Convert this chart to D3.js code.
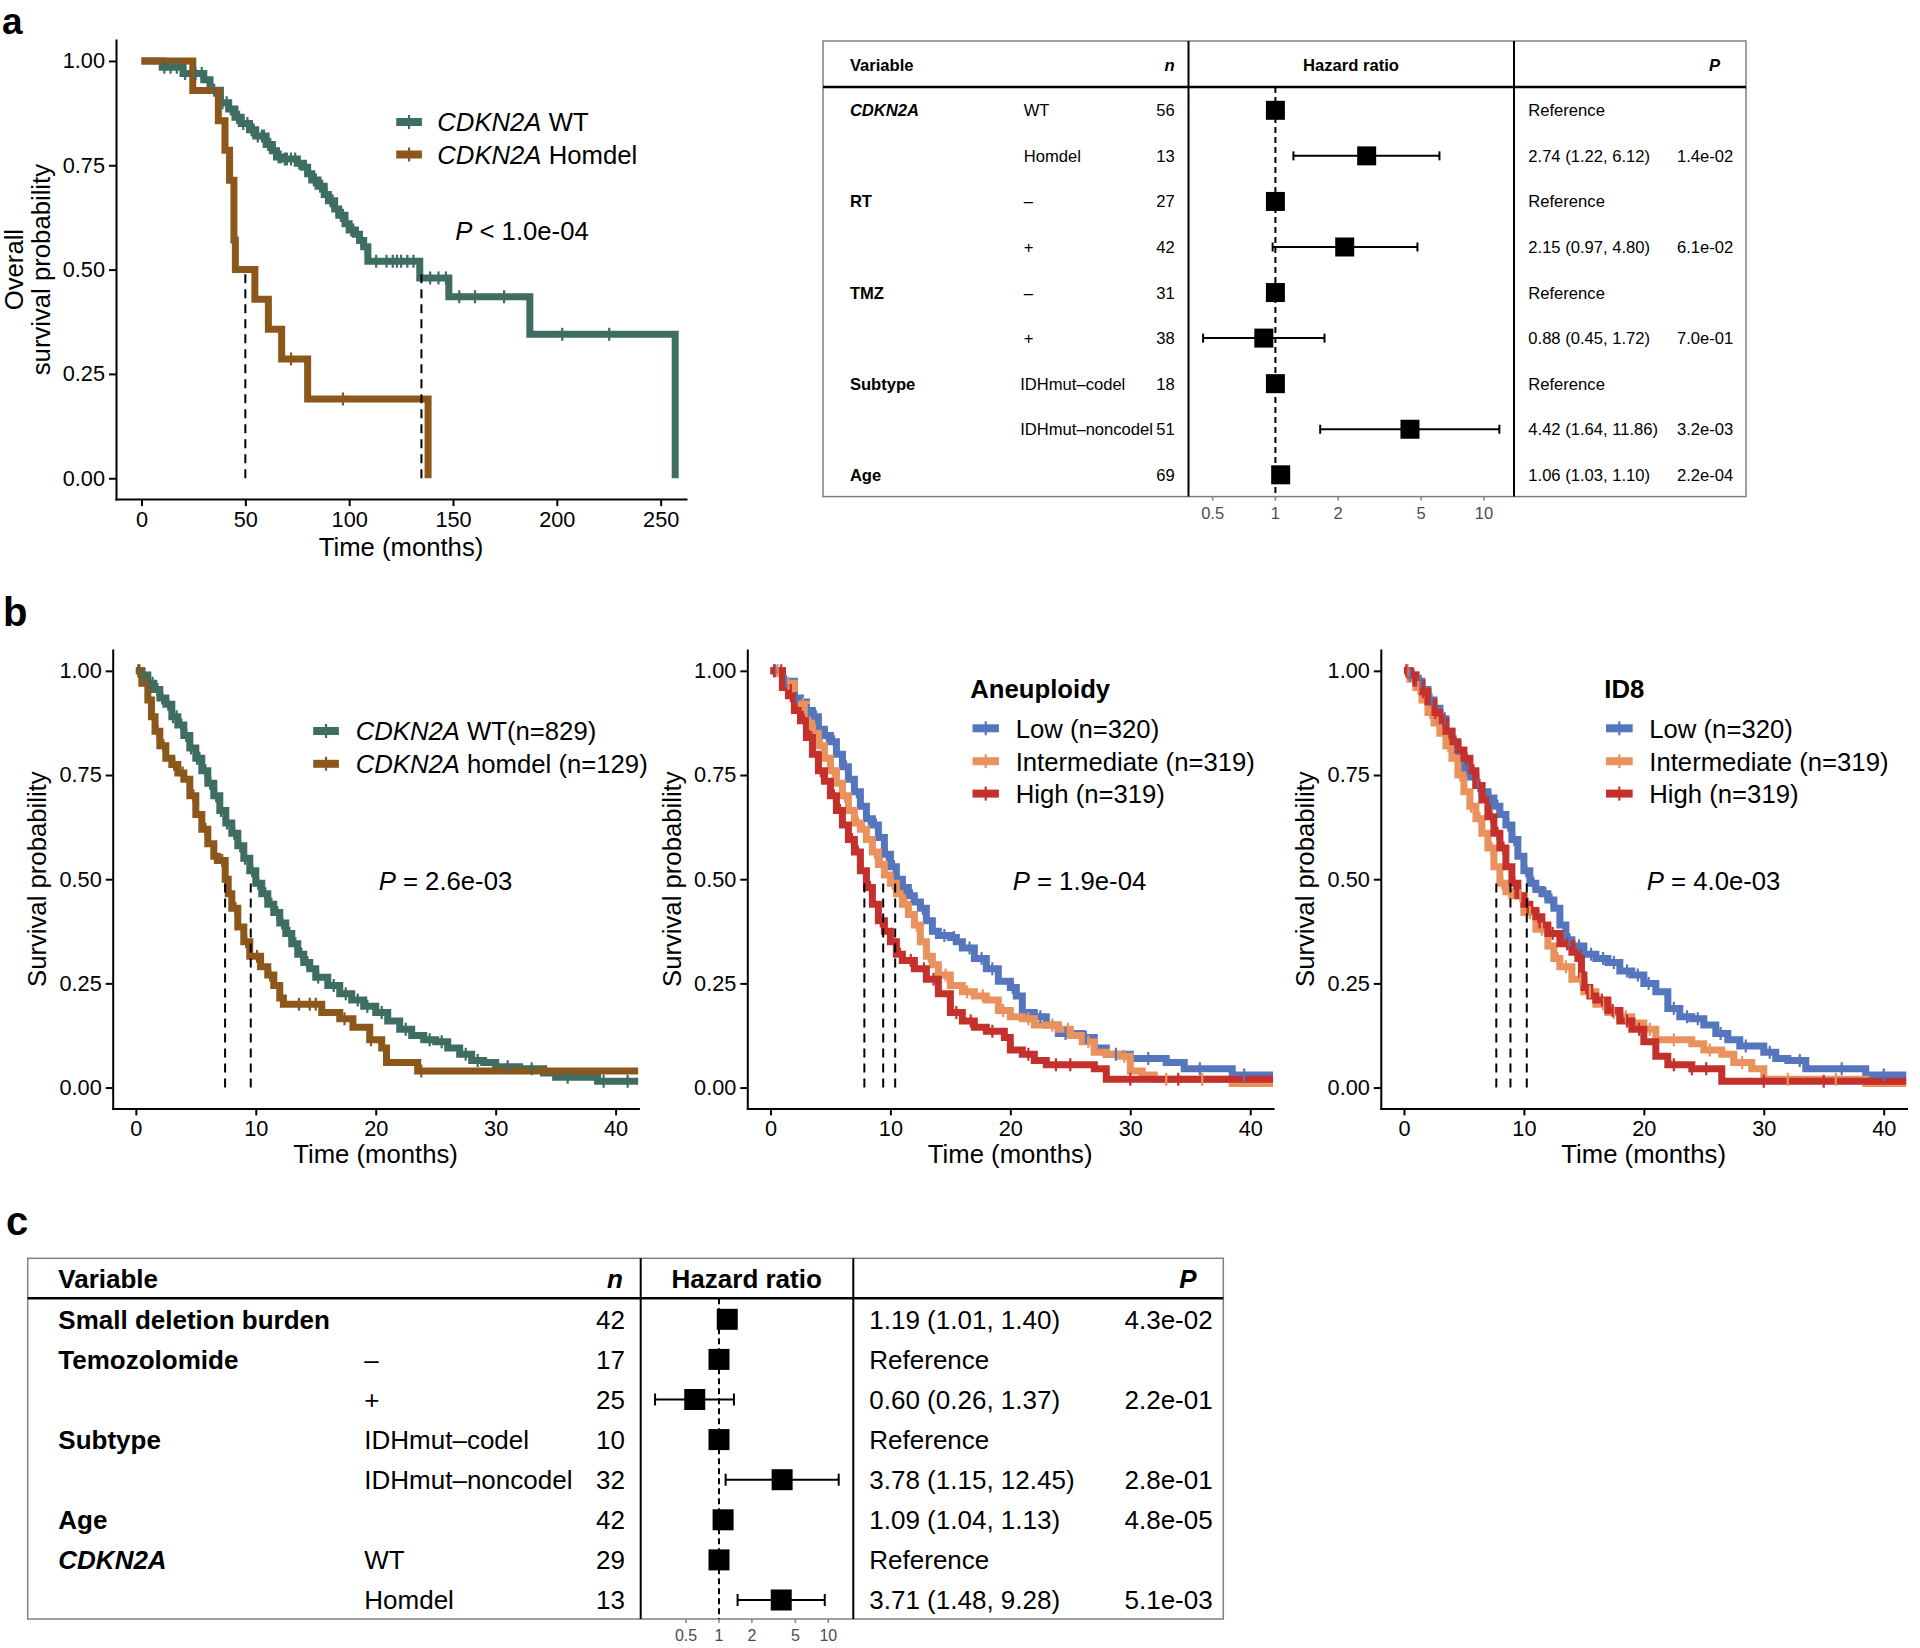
<!DOCTYPE html>
<html>
<head>
<meta charset="utf-8">
<script src="https://cdn.jsdelivr.net/npm/d3@7"></script>
<style>
  body { margin: 0; background: #fff; }
  svg { display: block; }
  text { white-space: pre; }
</style>
</head>
<body>
<svg width="1920" height="1648"></svg>
<script>
const svg = d3.select("svg");
const FONT = "'Liberation Sans', Arial, Helvetica, sans-serif";

const GREEN = "#3e6d62", BROWN = "#8b571b";
const BLUE = "#5576bd", ORANGE = "#e9925e", RED = "#c4302b";

// ---------- panel a, Kaplan-Meier ----------
const aWtTime = [0, 10, 20, 30, 33, 38, 42, 45, 48, 52, 55, 60, 63, 65, 68, 75, 78, 80, 82, 85, 88, 90, 93, 95, 98, 100, 103, 105, 107, 109, 134, 148, 187, 257];
const aWtSurv = [1, 0.985, 0.97, 0.955, 0.93, 0.90, 0.885, 0.865, 0.85, 0.835, 0.82, 0.80, 0.785, 0.77, 0.765, 0.755, 0.745, 0.73, 0.715, 0.70, 0.68, 0.665, 0.645, 0.63, 0.61, 0.595, 0.585, 0.57, 0.555, 0.52, 0.48, 0.435, 0.345, 0];
const aWtCens = [11, 14, 17, 21, 26, 29, 35, 39, 41, 43, 46, 47, 49, 51, 53, 54, 56, 58, 59, 61, 62, 64, 66, 67, 69, 70, 72, 74, 76, 79, 81, 83, 84, 86, 87, 89, 91, 92, 94, 96, 97, 99, 101, 102, 104, 106, 108, 113, 118, 121, 123, 125, 128, 131, 139, 143, 146.6, 153, 160.6, 174.6, 202.6, 225.2];
const aHdTime = [0, 24.7, 37, 40.2, 42.4, 44.5, 45.2, 54.6, 61.1, 67.5, 80, 138];
const aHdSurv = [1, 0.929, 0.857, 0.786, 0.714, 0.571, 0.50, 0.429, 0.357, 0.286, 0.19, 0];
const aHdCens = [72, 97];
const aMedians = [50, 134.8];

// ---------- panel b, CDKN2A ----------
const b1WtTime = [0, 0.5, 1, 1.5, 2, 2.5, 3, 3.5, 4, 4.5, 5, 5.5, 6, 6.5, 7, 7.5, 8, 8.5, 9, 9.5, 10, 10.5, 11, 11.5, 12, 12.5, 13, 13.5, 14, 14.5, 15, 16, 17, 18, 19, 20, 21, 22, 23, 24, 25, 26, 27, 28, 29, 30, 32, 34, 35, 38.5];
const b1WtSurv = [1, 0.99, 0.97, 0.955, 0.935, 0.92, 0.89, 0.87, 0.845, 0.815, 0.79, 0.76, 0.73, 0.70, 0.665, 0.635, 0.61, 0.58, 0.55, 0.52, 0.49, 0.465, 0.44, 0.42, 0.395, 0.37, 0.345, 0.32, 0.30, 0.285, 0.265, 0.245, 0.225, 0.21, 0.195, 0.18, 0.16, 0.14, 0.125, 0.115, 0.11, 0.095, 0.08, 0.065, 0.06, 0.05, 0.045, 0.035, 0.025, 0.015];
const b1WtCens = [0.2, 0.6, 1.1, 1.4, 1.8, 2.2, 2.7, 3.1, 3.4, 3.8, 4.2, 4.6, 5.1, 5.3, 5.8, 6.2, 6.7, 7.1, 7.6, 8.2, 8.7, 9.1, 9.7, 10.2, 10.8, 11.3, 11.8, 12.2, 12.8, 13.3, 13.8, 14.3, 15.2, 16.5, 17.5, 18.5, 19.3, 20.5, 22.5, 24.5, 25.5, 27.5, 28.5, 31, 33, 36, 39, 41];
const b1HdTime = [0, 0.5, 1, 1.3, 1.6, 2, 2.5, 3, 3.5, 4, 4.5, 5, 5.5, 6, 6.5, 6.8, 7.45, 7.7, 8, 8.5, 9, 9.5, 10.4, 11, 11.5, 12, 12.3, 15.5, 17, 18.1, 19.5, 20.5, 20.9, 23.5];
const b1HdSurv = [1, 0.97, 0.93, 0.89, 0.855, 0.82, 0.79, 0.775, 0.755, 0.74, 0.70, 0.655, 0.62, 0.585, 0.555, 0.545, 0.50, 0.465, 0.43, 0.385, 0.35, 0.315, 0.29, 0.27, 0.245, 0.215, 0.20, 0.18, 0.165, 0.145, 0.115, 0.095, 0.06, 0.04];
const b1HdCens = [0.3, 1.1, 1.8, 2.3, 3.2, 3.9, 4.8, 5.8, 6.6, 7.2, 8.3, 9.2, 10.1, 11.2, 13.6, 14.5, 15, 17.4, 19.6, 23.8];
const b1Medians = [7.44, 9.58];

// ---------- panel b, aneuploidy ----------
const b2LowTime = [0, 1, 2, 2.5, 3, 3.5, 4, 4.5, 5, 5.5, 6, 6.5, 7, 7.5, 8, 8.5, 9, 9.5, 10, 10.5, 11, 11.5, 12, 12.5, 13, 13.5, 14, 15, 15.5, 16, 17, 18, 19, 20, 20.5, 21, 22, 23, 24, 26, 27, 28, 30, 33, 34.5, 38.5];
const b2LowSurv = [1, 0.975, 0.935, 0.925, 0.905, 0.89, 0.86, 0.845, 0.83, 0.80, 0.77, 0.74, 0.71, 0.675, 0.645, 0.63, 0.60, 0.56, 0.53, 0.50, 0.48, 0.46, 0.445, 0.43, 0.40, 0.375, 0.365, 0.36, 0.35, 0.335, 0.31, 0.285, 0.255, 0.24, 0.22, 0.18, 0.17, 0.15, 0.13, 0.12, 0.095, 0.08, 0.07, 0.06, 0.045, 0.03];
const b2LowCens = [0.4, 1.3, 2.2, 3.2, 3.8, 4.7, 5.3, 6.3, 7.2, 8.2, 8.8, 9.7, 10.3, 11.2, 11.8, 12.7, 14.5, 15.3, 16.6, 17.6, 18.5, 20.2, 22.5, 24.6, 26.3, 28.8, 31.5, 35.8, 39.5];
const b2MidTime = [0, 1, 2, 3, 3.5, 4, 4.5, 5, 5.5, 6, 6.5, 7, 7.5, 8, 8.5, 9, 9.5, 10, 10.5, 11, 11.5, 12, 12.5, 13, 13.5, 14, 15, 16, 17, 18, 19, 20, 21, 22, 24, 25, 26, 27, 28, 29, 30, 31, 32, 38.5];
const b2MidSurv = [1, 0.97, 0.92, 0.875, 0.85, 0.82, 0.79, 0.76, 0.73, 0.70, 0.665, 0.635, 0.62, 0.595, 0.565, 0.535, 0.51, 0.49, 0.465, 0.44, 0.415, 0.39, 0.35, 0.315, 0.295, 0.27, 0.245, 0.23, 0.22, 0.21, 0.185, 0.17, 0.165, 0.15, 0.14, 0.125, 0.11, 0.085, 0.08, 0.075, 0.04, 0.03, 0.02, 0.01];
const b2MidCens = [0.6, 1.5, 2.7, 3.3, 4.3, 5.2, 6.2, 7.3, 7.8, 8.7, 9.3, 10.2, 11.3, 12.2, 13.2, 14.6, 16.4, 17.7, 19.4, 21.5, 23.5, 24.8, 26.5, 29.5, 33, 36];
const b2HighTime = [0, 1, 1.5, 2, 2.5, 3, 3.5, 4, 4.5, 5, 5.5, 6, 6.5, 7, 7.5, 8, 8.5, 9, 9.5, 10, 10.5, 11, 12, 13, 14, 15, 16, 17, 18, 19.5, 20, 21, 22, 23, 27, 28];
const b2HighSurv = [1, 0.96, 0.94, 0.905, 0.88, 0.84, 0.80, 0.76, 0.735, 0.70, 0.665, 0.63, 0.595, 0.565, 0.52, 0.48, 0.44, 0.40, 0.375, 0.35, 0.32, 0.305, 0.285, 0.26, 0.225, 0.18, 0.16, 0.145, 0.135, 0.12, 0.09, 0.08, 0.065, 0.055, 0.045, 0.02];
const b2HighCens = [0.3, 0.9, 1.7, 2.8, 3.4, 4.2, 5.3, 5.8, 6.8, 7.3, 8.3, 9.2, 10.8, 11.7, 12.8, 13.6, 15.5, 16.7, 18.5, 21.5, 23.8, 25, 30, 34];
const b2Medians = [7.83, 9.4, 10.4];

// ---------- panel b, ID8 ----------
const b3LowTime = [0, 0.5, 1, 1.5, 2, 2.5, 3, 3.5, 4, 4.5, 5, 5.5, 6, 6.5, 7, 7.5, 8, 8.5, 9, 9.5, 10, 10.5, 11, 11.5, 12, 12.5, 13, 13.5, 14, 15, 16, 17, 18, 19, 20, 21, 22, 23, 24, 25, 26, 27, 28, 30, 31, 32, 33.5, 38.5];
const b3LowSurv = [1, 0.99, 0.975, 0.955, 0.93, 0.91, 0.885, 0.855, 0.825, 0.795, 0.765, 0.745, 0.725, 0.71, 0.695, 0.675, 0.655, 0.63, 0.595, 0.555, 0.52, 0.49, 0.475, 0.465, 0.45, 0.43, 0.39, 0.355, 0.34, 0.32, 0.31, 0.30, 0.28, 0.27, 0.25, 0.23, 0.19, 0.17, 0.165, 0.15, 0.13, 0.115, 0.10, 0.085, 0.07, 0.065, 0.045, 0.03];
const b3LowCens = [0.5, 1.4, 2.3, 3.4, 4.3, 5.3, 6.2, 7.2, 7.8, 8.7, 9.2, 10.2, 10.8, 11.8, 12.3, 13.8, 14.6, 15.6, 16.6, 17.5, 18.6, 19.5, 20.4, 22.5, 23.6, 24.5, 26.4, 28.5, 30.5, 33, 36.5, 40];
const b3MidTime = [0, 0.5, 1, 1.5, 2, 2.5, 3, 3.5, 4, 4.5, 5, 5.5, 6, 6.5, 7, 7.5, 8, 8.5, 9, 10, 11, 12, 12.5, 13, 14, 15, 16, 17, 18, 19, 20, 21, 24, 25, 26.5, 27.5, 29, 30, 38.5];
const b3MidSurv = [1, 0.98, 0.96, 0.93, 0.90, 0.875, 0.85, 0.82, 0.79, 0.75, 0.71, 0.675, 0.645, 0.61, 0.575, 0.53, 0.49, 0.47, 0.46, 0.42, 0.38, 0.34, 0.31, 0.29, 0.26, 0.23, 0.20, 0.18, 0.17, 0.155, 0.14, 0.115, 0.105, 0.09, 0.08, 0.06, 0.045, 0.02, 0.01];
const b3MidCens = [0.3, 1.2, 2.2, 2.8, 3.7, 4.7, 5.6, 6.3, 7.3, 8.2, 8.8, 9.7, 10.5, 11.5, 12.8, 13.5, 14.7, 15.5, 16.6, 17.5, 18.5, 20.5, 22.5, 25.5, 28.2, 32, 36];
const b3HighTime = [0, 0.5, 1, 1.5, 2, 2.5, 3, 3.5, 4, 4.5, 5, 5.5, 6, 6.5, 7, 7.5, 8, 8.5, 9, 9.5, 10, 10.5, 11, 11.5, 12, 13, 14, 14.5, 14.8, 15, 15.5, 16, 17, 18, 19, 20, 21, 22, 24, 26.5];
const b3HighSurv = [1, 0.99, 0.97, 0.95, 0.925, 0.90, 0.88, 0.855, 0.83, 0.81, 0.79, 0.76, 0.725, 0.69, 0.65, 0.61, 0.575, 0.53, 0.49, 0.46, 0.44, 0.425, 0.41, 0.39, 0.37, 0.345, 0.325, 0.31, 0.27, 0.24, 0.22, 0.21, 0.185, 0.16, 0.14, 0.11, 0.075, 0.055, 0.045, 0.015];
const b3HighCens = [0.2, 0.8, 1.6, 2.6, 3.3, 4.3, 5.2, 5.8, 6.3, 7.3, 7.8, 8.3, 9.2, 10.3, 11.2, 12.4, 13.6, 15.2, 16.5, 17.4, 18.6, 19.6, 22.5, 24, 25.2, 30, 35];
const b3Medians = [7.7, 8.88, 10.24];

// ---------- panel a, Cox table ----------
const aVars = ["CDKN2A", "", "RT", "", "TMZ", "", "Subtype", "", "Age"];
const aLevels = ["WT", "Homdel", "–", "+", "–", "+", "IDHmut–codel", "IDHmut–noncodel", ""];
const aN = [56, 13, 27, 42, 31, 38, 18, 51, 69];
const aHR = [1, 2.74, 1, 2.15, 1, 0.88, 1, 4.42, 1.06];
const aLo = [null, 1.22, null, 0.97, null, 0.45, null, 1.64, 1.03];
const aHi = [null, 6.12, null, 4.80, null, 1.72, null, 11.86, 1.10];
const aP = ["", "1.4e-02", "", "6.1e-02", "", "7.0e-01", "", "3.2e-03", "2.2e-04"];

// ---------- panel c, Cox table ----------
const cVars = ["Small deletion burden", "Temozolomide", "", "Subtype", "", "Age", "CDKN2A", ""];
const cLevels = ["", "–", "+", "IDHmut–codel", "IDHmut–noncodel", "", "WT", "Homdel"];
const cN = [42, 17, 25, 10, 32, 42, 29, 13];
const cHR = [1.19, 1, 0.60, 1, 3.78, 1.09, 1, 3.71];
const cLo = [1.01, null, 0.26, null, 1.15, 1.04, null, 1.48];
const cHi = [1.40, null, 1.37, null, 12.45, 1.13, null, 9.28];
const cP = ["4.3e-02", "", "2.2e-01", "", "2.8e-01", "4.8e-05", "", "5.1e-03"];

const hrTicks = [0.5, 1, 2, 5, 10];
const survTicks = [0, 0.25, 0.5, 0.75, 1];

// ---------- helpers ----------
function richText(g, x, y, parts, size, anchor) {
  const t = g.append("text")
    .attr("x", x).attr("y", y)
    .attr("font-family", FONT)
    .attr("font-size", size)
    .attr("text-anchor", anchor || "start");
  parts.forEach(([str, style, weight]) => {
    t.append("tspan")
      .attr("font-style", style || "normal")
      .attr("font-weight", weight || "normal")
      .text(str);
  });
  return t;
}

function styleAxis(sel, size) {
  sel.attr("font-family", FONT).attr("font-size", size);
  sel.select(".domain").attr("stroke", "#000").attr("stroke-width", 2).attr("stroke-linecap", "square");
  sel.selectAll(".tick line").attr("stroke", "#000").attr("stroke-width", 2);
  sel.selectAll(".tick text").attr("fill", "#000");
}

function kmPanel(cfg) {
  const g = svg.append("g");
  const x = d3.scaleLinear().domain(cfg.xDomain).range([cfg.left, cfg.right]);
  const y = d3.scaleLinear().domain([-0.05, 1.05]).range([cfg.bottom, cfg.top]);

  const clipId = "clip-" + cfg.id;
  g.append("clipPath").attr("id", clipId).append("rect")
    .attr("x", cfg.left).attr("y", cfg.top - 10)
    .attr("width", cfg.right - cfg.left).attr("height", cfg.bottom - cfg.top + 10);
  const plot = g.append("g").attr("clip-path", `url(#${clipId})`);

  const line = d3.line().x(d => x(d[0])).y(d => y(d[1])).curve(d3.curveStepAfter);

  cfg.curves.forEach(c => {
    const pts = c.time.map((t, i) => [t, c.surv[i]]);
    const last = c.surv[c.surv.length - 1];
    if (last > 0 && cfg.end != null) pts.push([cfg.end, last]);
    plot.append("path")
      .attr("d", line(pts))
      .attr("fill", "none")
      .attr("stroke", c.color)
      .attr("stroke-width", cfg.lineW)
      .attr("stroke-linejoin", "miter");
  });

  cfg.curves.forEach(c => {
    plot.selectAll(null)
      .data(c.cens)
      .enter()
      .append("line")
      .attr("x1", d => x(d))
      .attr("x2", d => x(d))
      .attr("y1", d => y(c.surv[d3.bisectRight(c.time, d) - 1]) - 6.5)
      .attr("y2", d => y(c.surv[d3.bisectRight(c.time, d) - 1]) + 6.5)
      .attr("stroke", c.color)
      .attr("stroke-width", 2.2);
  });

  plot.selectAll(".median")
    .data(cfg.medians)
    .enter()
    .append("line")
    .attr("x1", d => x(d)).attr("x2", d => x(d))
    .attr("y1", y(0)).attr("y2", y(0.5))
    .attr("stroke", "#000")
    .attr("stroke-width", 2)
    .attr("stroke-dasharray", "9,6");

  g.append("g")
    .attr("transform", `translate(${cfg.left},0)`)
    .call(d3.axisLeft(y).tickValues(survTicks).tickFormat(d3.format(".2f"))
      .tickSize(7).tickSizeOuter(0).tickPadding(4))
    .call(s => styleAxis(s, 21.7));

  g.append("g")
    .attr("transform", `translate(0,${cfg.bottom})`)
    .call(d3.axisBottom(x).tickValues(cfg.xTicks).tickFormat(d3.format("d"))
      .tickSize(7).tickSizeOuter(0).tickPadding(5))
    .call(s => styleAxis(s, 21.7));

  g.append("text")
    .attr("x", (cfg.left + cfg.right) / 2)
    .attr("y", cfg.xTitleY)
    .attr("text-anchor", "middle")
    .attr("font-family", FONT)
    .attr("font-size", 25.7)
    .text("Time (months)");

  const cy = (cfg.top + cfg.bottom) / 2;
  cfg.yTitle.forEach((str, i, arr) => {
    g.append("text")
      .attr("transform", `translate(${cfg.left - 66.5 - (arr.length - 1 - i) * 27},${cy}) rotate(-90)`)
      .attr("text-anchor", "middle")
      .attr("font-family", FONT)
      .attr("font-size", 25.7)
      .text(str);
  });

  // legend
  const lg = cfg.legend;
  if (lg.title) {
    richText(g, lg.titleX, lg.titleY + 9.3, [[lg.title, "normal", "bold"]], 25.7);
  }
  cfg.curves.forEach((c, i) => {
    const ly = lg.y[i];
    g.append("line")
      .attr("x1", lg.x1).attr("x2", lg.x2).attr("y1", ly).attr("y2", ly)
      .attr("stroke", c.color).attr("stroke-width", 8);
    g.append("line")
      .attr("x1", (lg.x1 + lg.x2) / 2).attr("x2", (lg.x1 + lg.x2) / 2)
      .attr("y1", ly - 7).attr("y2", ly + 7)
      .attr("stroke", c.color).attr("stroke-width", 2.2);
    richText(g, lg.textX, ly + 9.3, c.label, 25.7);
  });

  richText(g, cfg.pX, cfg.pY + 9.3, [["P", "italic"], [cfg.pText]], 25.7);
}

function forestTable(cfg, vars, levels, ns, hr, lo, hi, ps) {
  const g = svg.append("g").attr("font-family", FONT);
  const [bx0, by0, bx1, by1] = cfg.box;
  const fs = cfg.fontSize;
  const x = d3.scaleLog().domain([1, 10]).range([cfg.x1, cfg.x1 + cfg.decade]);
  const y = d3.scaleLinear().domain([0, vars.length - 1]).range([cfg.rowFirst, cfg.rowLast]);
  const f2 = d3.format(".2f");

  g.append("rect")
    .attr("x", bx0).attr("y", by0)
    .attr("width", bx1 - bx0).attr("height", by1 - by0)
    .attr("fill", "none").attr("stroke", "#808080").attr("stroke-width", 1.5);
  g.append("line")
    .attr("x1", bx0).attr("x2", bx1).attr("y1", cfg.headerLine).attr("y2", cfg.headerLine)
    .attr("stroke", "#000").attr("stroke-width", 2.5);
  cfg.vlines.forEach(v => {
    g.append("line")
      .attr("x1", v).attr("x2", v).attr("y1", by0).attr("y2", by1)
      .attr("stroke", "#000").attr("stroke-width", 2);
  });

  const hy = cfg.headerY + 0.36 * fs;
  richText(g, cfg.varX, hy, [["Variable", "normal", "bold"]], fs);
  richText(g, cfg.headN, hy, [["n", "italic", "bold"]], fs, "end");
  richText(g, cfg.headHR, hy, [["Hazard ratio", "normal", "bold"]], fs, "middle");
  richText(g, cfg.headP, hy, [["P", "italic", "bold"]], fs, "end");

  g.append("line")
    .attr("x1", x(1)).attr("x2", x(1))
    .attr("y1", cfg.headerLine).attr("y2", by1)
    .attr("stroke", "#000").attr("stroke-width", 2)
    .attr("stroke-dasharray", "6,4");

  // level column: a whole group moves left when one of its labels is too wide
  let grp = -1;
  const groups = [];
  vars.forEach((v, i) => {
    if (v !== "") grp++;
    groups[i] = grp;
  });
  const levelText = levels.map((lv, i) =>
    g.append("text").attr("x", cfg.levelX).attr("y", y(i)).attr("dy", "0.36em")
      .attr("font-size", fs).text(lv));
  const widths = levelText.map(t => t.node().getComputedTextLength());
  const groupMax = d3.rollup(widths.map((w, i) => [groups[i], w]), v => d3.max(v, d => d[1]), d => d[0]);
  levelText.forEach((t, i) => {
    const w = groupMax.get(groups[i]);
    t.attr("x", Math.min(cfg.levelX, cfg.levelLimit - w));
  });

  vars.forEach((v, i) => {
    const ry = y(i);
    if (v !== "") {
      g.append("text").attr("x", cfg.varX).attr("y", ry).attr("dy", "0.36em")
        .attr("font-size", fs).attr("font-weight", "bold")
        .attr("font-style", v === "CDKN2A" ? "italic" : "normal")
        .text(v);
    }
    g.append("text").attr("x", cfg.nRight).attr("y", ry).attr("dy", "0.36em")
      .attr("font-size", fs).attr("text-anchor", "end").text(ns[i]);
    g.append("text").attr("x", cfg.hrTextX).attr("y", ry).attr("dy", "0.36em")
      .attr("font-size", fs)
      .text(lo[i] == null ? "Reference" : `${f2(hr[i])} (${f2(lo[i])}, ${f2(hi[i])})`);
    g.append("text").attr("x", cfg.pRight).attr("y", ry).attr("dy", "0.36em")
      .attr("font-size", fs).attr("text-anchor", "end").text(ps[i]);

    if (lo[i] != null) {
      g.append("line")
        .attr("x1", x(lo[i])).attr("x2", x(hi[i])).attr("y1", ry).attr("y2", ry)
        .attr("stroke", "#000").attr("stroke-width", 2);
      [lo[i], hi[i]].forEach(e => {
        g.append("line")
          .attr("x1", x(e)).attr("x2", x(e))
          .attr("y1", ry - cfg.cap / 2).attr("y2", ry + cfg.cap / 2)
          .attr("stroke", "#000").attr("stroke-width", 2);
      });
    }
    g.append("rect")
      .attr("x", x(hr[i]) - cfg.square / 2).attr("y", ry - cfg.square / 2)
      .attr("width", cfg.square).attr("height", cfg.square)
      .attr("fill", "#000");
  });

  g.selectAll(".hrtick")
    .data(hrTicks)
    .enter()
    .append("line")
    .attr("x1", d => x(d)).attr("x2", d => x(d))
    .attr("y1", by1).attr("y2", by1 + 4)
    .attr("stroke", "#808080").attr("stroke-width", 1.5);
  g.selectAll(".hrlab")
    .data(hrTicks)
    .enter()
    .append("text")
    .attr("x", d => x(d)).attr("y", cfg.tickY)
    .attr("text-anchor", "middle")
    .attr("font-size", cfg.tickFont)
    .attr("fill", "#4d4d4d")
    .text(d => d);
}

// ---------- panel letters ----------
[["a", 2, 34, 37], ["b", 3, 625.6, 40], ["c", 6, 1235, 40]].forEach(([l, lx, ly, fs]) => {
  svg.append("text").attr("x", lx).attr("y", ly)
    .attr("font-family", FONT).attr("font-size", fs).attr("font-weight", "bold")
    .text(l);
});

// ---------- draw ----------
kmPanel({
  id: "a", left: 116, right: 686, top: 40.1, bottom: 499.1,
  xDomain: [-12.28, 262.2], xTicks: [0, 50, 100, 150, 200, 250], end: null, lineW: 7,
  xTitleY: 555.5, yTitle: ["Overall", "survival probability"],
  curves: [
    { time: aWtTime, surv: aWtSurv, cens: aWtCens, color: GREEN, label: [["CDKN2A", "italic"], [" WT"]] },
    { time: aHdTime, surv: aHdSurv, cens: aHdCens, color: BROWN, label: [["CDKN2A", "italic"], [" Homdel"]] }
  ],
  medians: aMedians,
  legend: { x1: 396.2, x2: 421.9, textX: 437.3, y: [122, 154.5] },
  pX: 455.2, pY: 230.5, pText: " < 1.0e-04"
});

const bCommon = {
  top: 650.0, bottom: 1108.4, xDomain: [-1.93, 41.9], xTicks: [0, 10, 20, 30, 40],
  end: 41.9, lineW: 7, xTitleY: 1163, yTitle: ["Survival probability"]
};

kmPanel(Object.assign({}, bCommon, {
  id: "b1", left: 112.7, right: 638.4,
  curves: [
    { time: b1WtTime, surv: b1WtSurv, cens: b1WtCens, color: GREEN, label: [["CDKN2A", "italic"], [" WT(n=829)"]] },
    { time: b1HdTime, surv: b1HdSurv, cens: b1HdCens, color: BROWN, label: [["CDKN2A", "italic"], [" homdel (n=129)"]] }
  ],
  medians: b1Medians,
  legend: { x1: 313.2, x2: 338.9, textX: 355.7, y: [731, 763.8] },
  pX: 378.7, pY: 880.6, pText: " = 2.6e-03"
}));

kmPanel(Object.assign({}, bCommon, {
  id: "b2", left: 747.3, right: 1273.0,
  curves: [
    { time: b2LowTime, surv: b2LowSurv, cens: b2LowCens, color: BLUE, label: [["Low (n=320)"]] },
    { time: b2MidTime, surv: b2MidSurv, cens: b2MidCens, color: ORANGE, label: [["Intermediate (n=319)"]] },
    { time: b2HighTime, surv: b2HighSurv, cens: b2HighCens, color: RED, label: [["High (n=319)"]] }
  ],
  medians: b2Medians,
  legend: { title: "Aneuploidy", titleX: 970.3, titleY: 688.4, x1: 972.5, x2: 998.9, textX: 1015.7, y: [728.3, 761.2, 793.6] },
  pX: 1012.7, pY: 880.6, pText: " = 1.9e-04"
}));

kmPanel(Object.assign({}, bCommon, {
  id: "b3", left: 1380.8, right: 1906.5,
  curves: [
    { time: b3LowTime, surv: b3LowSurv, cens: b3LowCens, color: BLUE, label: [["Low (n=320)"]] },
    { time: b3MidTime, surv: b3MidSurv, cens: b3MidCens, color: ORANGE, label: [["Intermediate (n=319)"]] },
    { time: b3HighTime, surv: b3HighSurv, cens: b3HighCens, color: RED, label: [["High (n=319)"]] }
  ],
  medians: b3Medians,
  legend: { title: "ID8", titleX: 1604.3, titleY: 688.4, x1: 1606, x2: 1632.7, textX: 1649.3, y: [728.3, 761.2, 793.6] },
  pX: 1646.8, pY: 880.6, pText: " = 4.0e-03"
}));

forestTable({
  box: [823, 41, 1746, 496.6], headerY: 64.8, headerLine: 87, vlines: [1188.5, 1514],
  rowFirst: 110.3, rowLast: 474.8, fontSize: 16.6,
  varX: 849.9, levelX: 1023.7, levelLimit: 1153, nRight: 1174.7,
  hrTextX: 1528.3, pRight: 1733.3, headN: 1174.7, headHR: 1351, headP: 1720,
  x1: 1275.4, decade: 208.5, square: 19, cap: 9, tickY: 518.8, tickFont: 16.5
}, aVars, aLevels, aN, aHR, aLo, aHi, aP);

forestTable({
  box: [27.7, 1258.3, 1223.3, 1619], headerY: 1278.3, headerLine: 1298.3, vlines: [640.7, 853.3],
  rowFirst: 1319.3, rowLast: 1600, fontSize: 26,
  varX: 58.3, levelX: 364.3, levelLimit: 603, nRight: 625,
  hrTextX: 869.3, pRight: 1212.7, headN: 623, headHR: 746.7, headP: 1196.7,
  x1: 719, decade: 109.3, square: 21, cap: 12, tickY: 1640.8, tickFont: 16
}, cVars, cLevels, cN, cHR, cLo, cHi, cP);
</script>
</body>
</html>
